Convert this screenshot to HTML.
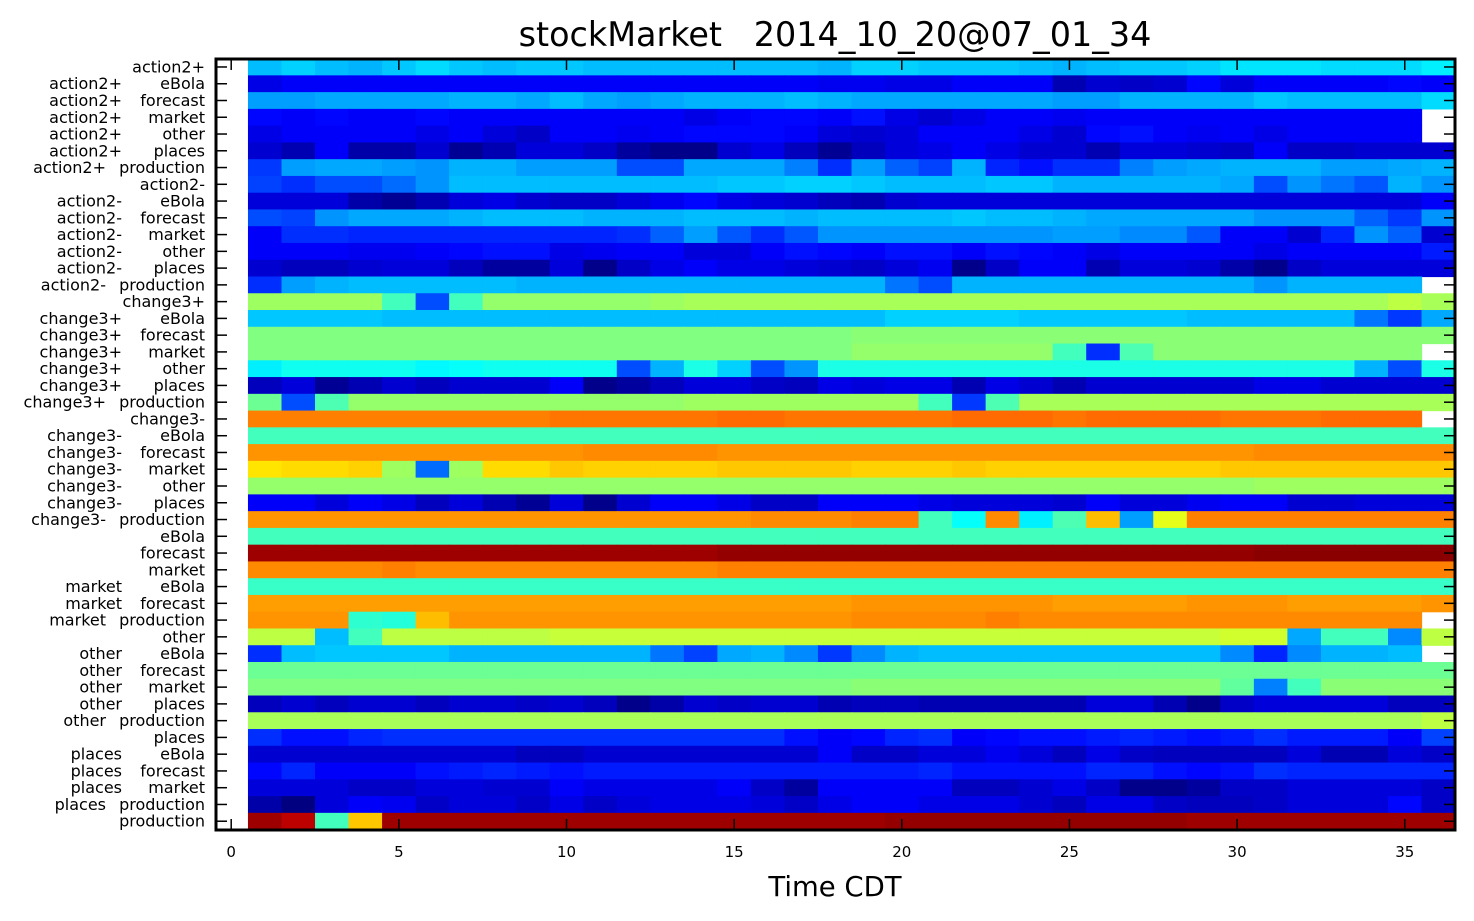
<!DOCTYPE html>
<html><head><meta charset="utf-8"><style>
body{margin:0;background:#fff;}
svg{display:block;font-family:"DejaVu Sans","Liberation Sans",sans-serif;}
</style></head><body>
<svg id="chart" width="1474" height="921">
<text x="835" y="46" font-size="33.4" text-anchor="middle" style="white-space:pre">stockMarket   2014_10_20@07_01_34</text>
<text x="835" y="896" font-size="27.5" text-anchor="middle">Time CDT</text>
<g id="cells"></g>
<g id="ylabels"></g>
<g id="xticks"></g>
<rect x="216" y="59" width="1239" height="771" fill="none" stroke="#000" stroke-width="3"/>
</svg>
<script>
const rowLabels=[["action2+",""],["action2+","eBola"],["action2+","forecast"],["action2+","market"],["action2+","other"],["action2+","places"],["action2+","production"],["action2-",""],["action2-","eBola"],["action2-","forecast"],["action2-","market"],["action2-","other"],["action2-","places"],["action2-","production"],["change3+",""],["change3+","eBola"],["change3+","forecast"],["change3+","market"],["change3+","other"],["change3+","places"],["change3+","production"],["change3-",""],["change3-","eBola"],["change3-","forecast"],["change3-","market"],["change3-","other"],["change3-","places"],["change3-","production"],["eBola",""],["forecast",""],["market",""],["market","eBola"],["market","forecast"],["market","production"],["other",""],["other","eBola"],["other","forecast"],["other","market"],["other","places"],["other","production"],["places",""],["places","eBola"],["places","forecast"],["places","market"],["places","production"],["production",""]];
const xTicks=[0,5,10,15,20,25,30,35];
const values=[
[31,33,31,30,32,34,32,31,32,32,31,31,31,31,31,31,31,30,33,33,32,32,32,31,30,31,32,32,33,35,35,35,34,34,34,36],
[10,12,12,12,12,12,12,12,12,12,12,12,12,12,12,12,12,11,11,10,10,12,12,12,5,8,7,8,13,9,12,12,12,12,13,12],
[28,28,29,29,29,29,30,30,29,31,29,28,29,30,30,30,31,30,29,29,29,29,29,29,28,28,30,30,30,30,32,31,31,31,31,34],
[13,12,13,12,12,13,12,12,12,12,12,12,12,10,12,13,13,12,14,10,8,10,12,12,11,12,12,12,12,12,12,12,12,12,12,null],
[10,12,12,12,12,10,12,9,7,12,12,11,12,13,13,13,12,9,8,9,12,12,12,10,8,13,14,12,11,12,10,12,12,12,12,null],
[8,5,12,4,4,8,2,5,9,9,7,3,1,1,8,10,6,2,6,9,10,12,10,8,8,5,9,9,8,7,12,7,7,8,8,8],
[18,28,29,29,28,27,30,30,28,28,28,20,20,29,29,29,25,17,28,22,19,30,16,14,17,17,25,28,29,30,30,30,28,28,29,30],
[19,17,20,20,23,27,31,31,31,31,31,31,31,31,32,32,33,33,32,31,31,31,32,32,30,30,30,30,30,29,20,27,24,21,30,27],
[9,9,9,4,2,5,9,10,8,7,7,9,11,13,10,9,8,6,5,8,9,9,9,9,9,9,9,9,9,9,9,9,9,9,9,12],
[20,19,27,29,29,29,30,31,31,31,30,30,30,31,31,31,30,31,31,31,31,32,31,31,30,29,29,29,29,29,27,27,27,22,18,27],
[12,17,17,16,16,16,16,16,16,16,16,17,22,28,21,17,21,27,27,27,27,27,27,27,28,28,26,26,21,12,12,8,16,27,22,8],
[12,12,12,11,11,12,13,14,14,10,11,12,12,9,9,12,14,13,12,14,14,12,14,13,12,10,12,12,12,12,10,12,12,12,12,15],
[8,6,6,8,9,9,6,3,3,9,1,7,10,12,10,10,9,8,7,9,11,1,7,12,12,5,9,9,8,4,1,7,9,9,9,9],
[17,28,30,31,31,31,31,31,30,30,30,30,30,30,30,30,30,30,30,24,20,30,30,30,30,30,30,30,30,30,27,30,30,30,30,null],
[53,53,53,53,44,20,44,52,52,52,52,52,53,54,54,54,54,54,54,54,54,54,54,54,54,54,54,54,54,54,54,54,54,54,56,54],
[32,32,32,32,31,31,31,31,31,31,31,31,31,31,31,31,31,31,31,33,33,33,33,32,32,32,32,32,31,31,31,31,31,24,18,29],
[50,50,50,50,50,50,50,50,50,50,50,50,50,50,50,50,50,50,51,51,51,51,51,51,51,51,51,51,51,51,51,51,51,51,51,51],
[50,50,50,50,50,50,50,50,50,50,50,50,50,50,50,50,50,50,52,52,52,52,52,52,44,17,45,51,51,51,51,51,51,51,51,null],
[36,39,39,39,39,37,38,39,39,39,39,20,30,40,33,20,27,40,40,40,40,40,40,40,40,40,40,40,40,40,40,40,40,30,20,40],
[6,9,2,5,8,6,8,8,8,12,1,3,6,9,9,7,6,10,9,10,10,5,10,8,5,8,8,8,8,8,10,10,8,8,8,8],
[48,20,45,52,52,52,52,52,52,52,52,52,52,53,53,53,53,53,53,53,44,18,45,54,54,54,54,54,54,54,54,54,54,54,54,54],
[75,75,75,75,75,75,75,75,75,76,76,76,76,76,77,77,76,76,76,76,76,77,77,77,76,77,77,77,77,76,76,76,77,77,77,null],
[44,44,44,44,44,44,44,44,44,44,44,44,44,44,44,44,44,44,44,44,44,44,44,44,44,44,44,44,44,44,44,44,44,44,44,44],
[73,73,73,73,73,73,73,73,73,73,74,74,74,74,73,73,73,73,73,73,73,73,73,73,73,73,73,73,73,73,74,74,74,74,74,74],
[65,66,66,67,53,23,53,66,66,68,67,67,67,67,68,68,68,68,67,67,67,68,67,67,67,67,67,67,67,68,68,68,68,68,68,68],
[52,52,52,52,52,52,52,52,52,52,52,52,52,52,52,52,52,52,52,52,52,52,52,52,52,52,52,52,52,52,53,53,53,53,53,53],
[12,12,9,12,10,6,9,5,2,9,1,8,12,12,10,7,7,12,12,12,10,9,9,9,8,12,9,9,11,12,12,8,8,9,9,9],
[73,73,73,73,73,73,73,73,73,73,73,73,73,73,73,74,74,74,75,75,44,38,74,36,45,69,28,60,75,75,75,75,75,75,75,75],
[44,44,44,44,44,44,44,44,44,44,44,44,44,44,44,44,44,44,44,44,44,44,44,44,44,44,44,44,44,44,44,44,44,44,44,44],
[97,97,97,97,97,97,97,97,97,97,97,97,97,97,98,98,98,98,98,98,98,98,98,98,98,98,98,98,98,98,99,99,99,99,99,99],
[74,74,74,74,75,74,74,74,74,74,74,74,74,74,75,75,75,75,75,75,75,75,75,75,75,75,75,75,75,75,75,75,75,75,75,75],
[43,43,43,43,43,43,43,43,43,43,43,43,43,43,43,43,43,43,43,43,43,43,43,43,43,43,43,43,43,43,43,43,43,43,43,43],
[72,72,72,72,72,72,72,72,72,72,72,72,72,72,72,72,72,72,73,73,73,73,73,73,72,72,72,72,73,73,73,72,72,72,72,73],
[73,73,73,42,41,69,73,73,73,73,73,73,73,73,73,73,73,73,74,74,74,74,75,74,74,74,74,74,74,74,74,74,74,74,74,null],
[56,56,31,44,56,56,56,56,56,57,57,57,57,57,57,57,57,57,57,57,57,57,57,57,57,57,57,57,57,58,58,29,44,44,26,56],
[17,31,32,32,32,32,30,30,30,30,30,30,24,19,29,30,26,18,26,30,31,31,31,31,31,31,31,31,31,26,16,26,30,30,31,null],
[48,48,48,48,48,48,48,48,48,48,48,48,48,48,48,48,48,48,48,48,48,48,48,48,48,48,48,48,48,48,48,48,48,48,48,48],
[50,50,50,50,50,50,50,50,50,50,50,50,50,50,50,50,50,50,51,51,51,51,51,51,51,51,51,51,51,47,25,44,51,51,51,51],
[6,8,6,8,8,6,8,8,7,8,6,1,4,8,7,8,8,5,6,6,5,5,5,5,5,9,9,5,1,7,9,9,9,9,6,6],
[54,54,54,54,54,54,54,54,54,54,54,54,54,54,54,54,54,54,54,54,54,54,54,54,54,54,54,54,54,54,54,54,54,54,54,56],
[17,14,14,16,17,17,17,17,17,17,17,17,17,17,17,17,14,12,13,16,17,12,13,14,14,15,16,15,14,15,17,15,15,15,12,19],
[8,8,8,8,8,8,8,8,6,6,8,8,8,8,8,8,8,12,7,7,9,9,11,9,6,10,7,6,6,6,6,9,5,5,9,7],
[13,16,12,12,12,14,15,16,15,14,15,15,15,15,15,15,15,15,15,15,16,14,14,14,14,16,16,14,13,14,17,16,16,16,16,16],
[9,9,9,7,7,9,9,8,8,12,10,10,10,10,12,7,3,12,12,12,12,6,6,8,10,7,1,1,3,7,7,9,9,9,9,7],
[4,0,9,12,11,7,9,9,7,10,7,9,10,10,10,9,7,10,12,12,10,10,10,8,6,10,10,7,6,6,7,9,9,9,13,7],
[97,94,44,68,97,97,97,97,97,97,97,97,97,97,97,97,97,97,97,98,98,98,98,98,98,98,98,98,97,97,97,97,97,97,97,97]
];
const NS="http://www.w3.org/2000/svg";
const X0=231.2, DX=33.53, Y0=58.6, DY=771/46;
function xs(v){return X0+v*DX;}
function ys(r){return Y0+r*DY;}
function jet(t){
  function c(x){return Math.max(0,Math.min(1,x));}
  const r=c(1.5-Math.abs(4*t-3)), g=c(1.5-Math.abs(4*t-2)), b=c(1.5-Math.abs(4*t-1));
  return "rgb("+Math.round(r*255)+","+Math.round(g*255)+","+Math.round(b*255)+")";
}
const cg=document.getElementById("cells");
values.forEach(function(row,ri){
  row.forEach(function(v,ci){
    if(v===null)return;
    const el=document.createElementNS(NS,"rect");
    el.setAttribute("x",xs(ci+0.5).toFixed(2));
    el.setAttribute("y",ys(ri).toFixed(2));
    el.setAttribute("width",(DX+0.6).toFixed(2));
    el.setAttribute("height",(DY+0.6).toFixed(2));
    el.setAttribute("fill",jet(v/100));
    
    
    cg.appendChild(el);
  });
});
const yl=document.getElementById("ylabels");
rowLabels.forEach(function(l,ri){
  const yc=ys(ri+0.5)+5.5;
  const g=document.createElementNS(NS,"g");
  
  
  if(l[1]===""){
    const t=document.createElementNS(NS,"text");
    t.setAttribute("x",205);t.setAttribute("y",yc);t.setAttribute("font-size","16");t.setAttribute("text-anchor","end");
    t.textContent=l[0];g.appendChild(t);
  }else{
    const t2=document.createElementNS(NS,"text");
    t2.setAttribute("x",205);t2.setAttribute("y",yc);t2.setAttribute("font-size","16");t2.setAttribute("text-anchor","end");
    t2.textContent=l[1];g.appendChild(t2);
    const t1=document.createElementNS(NS,"text");
    t1.setAttribute("x",l[1]==="production"?106:122);t1.setAttribute("y",yc);t1.setAttribute("font-size","16");t1.setAttribute("text-anchor","end");
    t1.textContent=l[0];g.appendChild(t1);
  }
  const tk=document.createElementNS(NS,"line");
  tk.setAttribute("x1",1444);tk.setAttribute("x2",1455);tk.setAttribute("y1",ys(ri+0.5));tk.setAttribute("y2",ys(ri+0.5));tk.setAttribute("stroke","#000");tk.setAttribute("stroke-width","1.5");
  g.appendChild(tk);
  const tk2=document.createElementNS(NS,"line");
  tk2.setAttribute("x1",216);tk2.setAttribute("x2",227);tk2.setAttribute("y1",ys(ri+0.5));tk2.setAttribute("y2",ys(ri+0.5));tk2.setAttribute("stroke","#000");tk2.setAttribute("stroke-width","1.5");
  g.appendChild(tk2);
  yl.appendChild(g);
});
const xt=document.getElementById("xticks");
xTicks.forEach(function(v){
  const g=document.createElementNS(NS,"g");
  
  
  const x=xs(v);
  [[830,819],[59,70]].forEach(function(p){
    const l=document.createElementNS(NS,"line");
    l.setAttribute("x1",x);l.setAttribute("x2",x);l.setAttribute("y1",p[0]);l.setAttribute("y2",p[1]);l.setAttribute("stroke","#000");l.setAttribute("stroke-width","1.5");
    g.appendChild(l);
  });
  const t=document.createElementNS(NS,"text");
  t.setAttribute("x",x);t.setAttribute("y",857);t.setAttribute("font-size","15");t.setAttribute("text-anchor","middle");
  t.textContent=v;g.appendChild(t);
  xt.appendChild(g);
});
</script>
</body></html>
